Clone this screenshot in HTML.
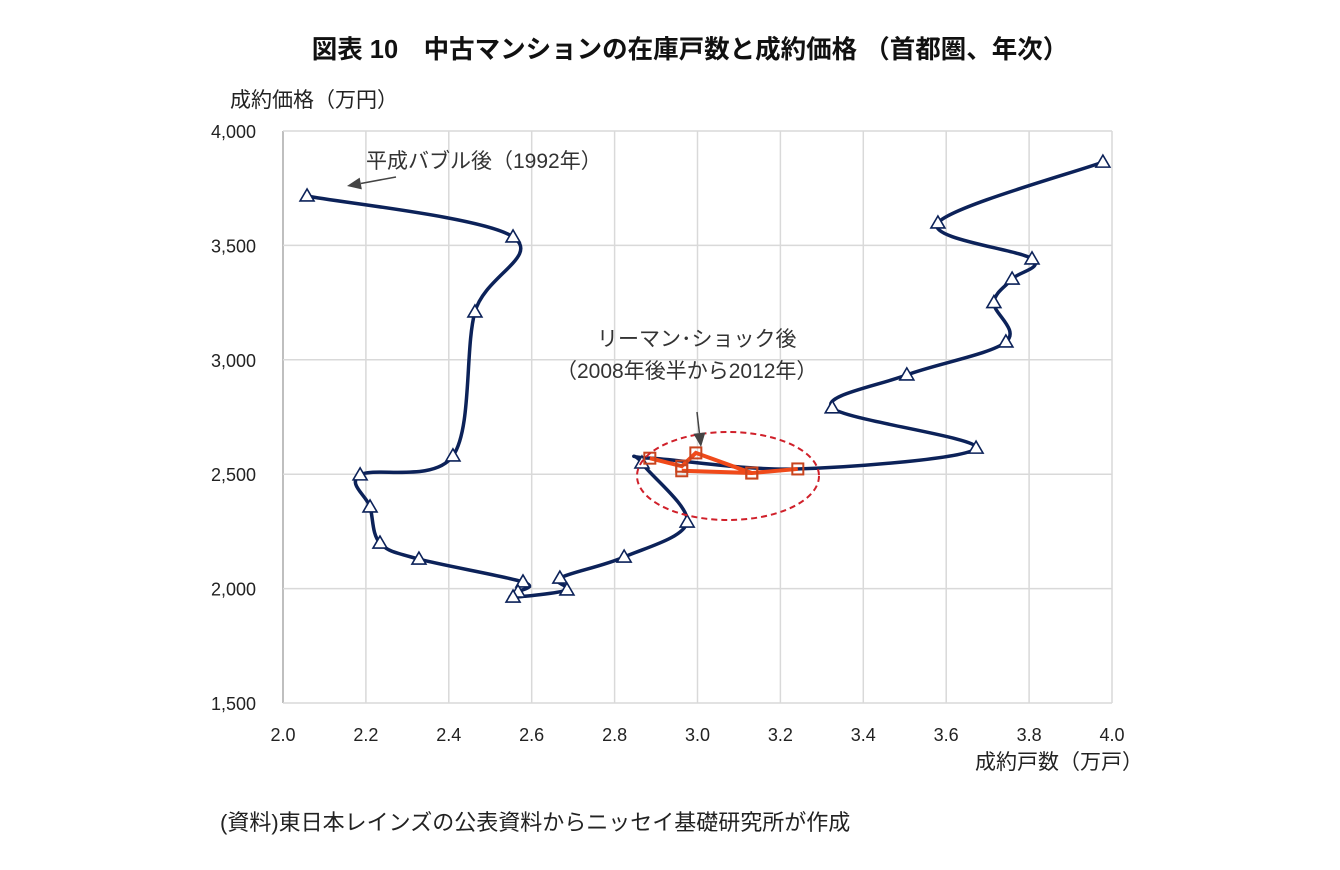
<!DOCTYPE html>
<html><head><meta charset="utf-8"><style>
body{margin:0;background:#fff;width:1340px;height:865px;overflow:hidden;font-family:"Liberation Sans","Noto Sans CJK JP",sans-serif;}
svg text{font-family:"Liberation Sans","Noto Sans CJK JP",sans-serif;}
</style></head><body>
<svg id="c" width="1340" height="865">
<text x="690" y="58" text-anchor="middle" font-size="25.5" font-weight="bold" fill="#111">図表 10　中古マンションの在庫戸数と成約価格 （首都圏、年次）</text>
<text x="230" y="107" font-size="21" fill="#222">成約価格（万円）</text>
<text x="1143" y="769" text-anchor="end" font-size="21" fill="#222">成約戸数（万戸）</text>
<text x="220" y="830" font-size="22" fill="#222">(資料)東日本レインズの公表資料からニッセイ基礎研究所が作成</text>
<g id="grid"></g><g id="marks"></g>
<text x="366" y="168" font-size="21" fill="#333">平成バブル後（1992年）</text>
<text x="597" y="346" font-size="21" fill="#333">リーマン･ショック後</text>
<text x="556" y="378" font-size="21" fill="#333">（2008年後半から2012年）</text>
</svg>
<script>
const xTicks=[2.0,2.2,2.4,2.6,2.8,3.0,3.2,3.4,3.6,3.8,4.0];
const yTicks=[1500,2000,2500,3000,3500,4000];
const blueX=[2.058,2.555,2.463,2.410,2.186,2.210,2.234,2.328,2.579,2.567,2.555,2.685,2.668,2.823,2.975,2.866,2.885,3.242,3.672,3.325,3.505,3.744,3.715,3.759,3.807,3.580,3.978];
const blueY=[3716,3537,3209,2580,2497,2357,2199,2129,2029,1985,1963,1994,2046,2138,2291,2549,2570,2523,2614,2790,2934,3078,3250,3353,3441,3598,3864];
const blueMarker=[1,1,1,1,1,1,1,1,1,1,1,1,1,1,1,1,0,0,1,1,1,1,1,1,1,1,1];
const redX=[2.885,2.962,2.996,3.131,2.962,3.131,3.242];
const redY=[2570,2535,2593,2505,2515,2505,2523];
const NS='http://www.w3.org/2000/svg';
const X0=283,X1=1112,Y0=703,Y1=131;
const sx=v=>X0+(v-2)/2*(X1-X0);
const sy=v=>Y0-(v-1500)/2500*(Y0-Y1);
function mk(t,a,p){const e=document.createElementNS(NS,t);for(const k in a)e.setAttribute(k,a[k]);(p||document.getElementById('marks')).appendChild(e);return e;}
const g=document.getElementById('grid');
xTicks.forEach((t,i)=>{
 const l=mk('line',{x1:sx(t),x2:sx(t),y1:Y1,y2:Y0,stroke:i==0?'#bfbfbf':'#d9d9d9','stroke-width':i==0?2:1.5},g);
 
 
 const tx=mk('text',{x:sx(t),y:741,'text-anchor':'middle','font-size':18,fill:'#222'},g);tx.textContent=t.toFixed(1);
 
 
});
yTicks.forEach(t=>{
 const l=mk('line',{x1:X0,x2:X1,y1:sy(t),y2:sy(t),stroke:'#d9d9d9','stroke-width':1.5},g);
 
 
 const tx=mk('text',{x:256,y:sy(t)+7,'text-anchor':'end','font-size':18,fill:'#222'},g);tx.textContent=t.toLocaleString('en-US');
 
 
});
const P=blueX.map((v,i)=>[sx(v),sy(blueY[i])]);
let d='M'+P[0][0]+','+P[0][1];
for(let i=0;i<P.length-1;i++){const p0=P[i-1]||P[i],p1=P[i],p2=P[i+1],p3=P[i+2]||p2;const k=6;
 d+=` C${p1[0]+(p2[0]-p0[0])/k},${p1[1]+(p2[1]-p0[1])/k} ${p2[0]-(p3[0]-p1[0])/k},${p2[1]-(p3[1]-p1[1])/k} ${p2[0]},${p2[1]}`;}
const bp=mk('path',{d:d,fill:'none',stroke:'#0c2259','stroke-width':3.5});


P.forEach((p,i)=>{if(!blueMarker[i])return;
 const m=mk('polygon',{points:`${p[0]},${p[1]-7} ${p[0]-7},${p[1]+5} ${p[0]+7},${p[1]+5}`,fill:'#fff',stroke:'#0c2259','stroke-width':1.6});
 
 });
const rp=mk('polyline',{points:redX.map((v,i)=>sx(v)+','+sy(redY[i])).join(' '),fill:'none',stroke:'#f04a1a','stroke-width':4});


redX.forEach((v,i)=>{const x=sx(v),y=sy(redY[i]);
 const m=mk('rect',{x:x-5.5,y:y-5.5,width:11,height:11,fill:'none',stroke:'#c8441e','stroke-width':2});
 
 });
const el=mk('ellipse',{cx:728,cy:476,rx:91,ry:44,fill:'none',stroke:'#d0202a','stroke-width':2,'stroke-dasharray':'6,4'});


function arrow(x1,y1,x2,y2,n){const a=Math.atan2(y2-y1,x2-x1),L=14,W=6;
 const l=mk('line',{x1:x1,y1:y1,x2:x2-L*Math.cos(a),y2:y2-L*Math.sin(a),stroke:'#444','stroke-width':1.5});
 
 
 const h=mk('polygon',{points:`${x2},${y2} ${x2-L*Math.cos(a)-W*Math.sin(a)},${y2-L*Math.sin(a)+W*Math.cos(a)} ${x2-L*Math.cos(a)+W*Math.sin(a)},${y2-L*Math.sin(a)-W*Math.cos(a)}`,fill:'#444'});
 
 }
arrow(396,177,347,186,'bubble-arrow');
arrow(697,412,701,447,'lehman-arrow');
</script>
</body></html>
